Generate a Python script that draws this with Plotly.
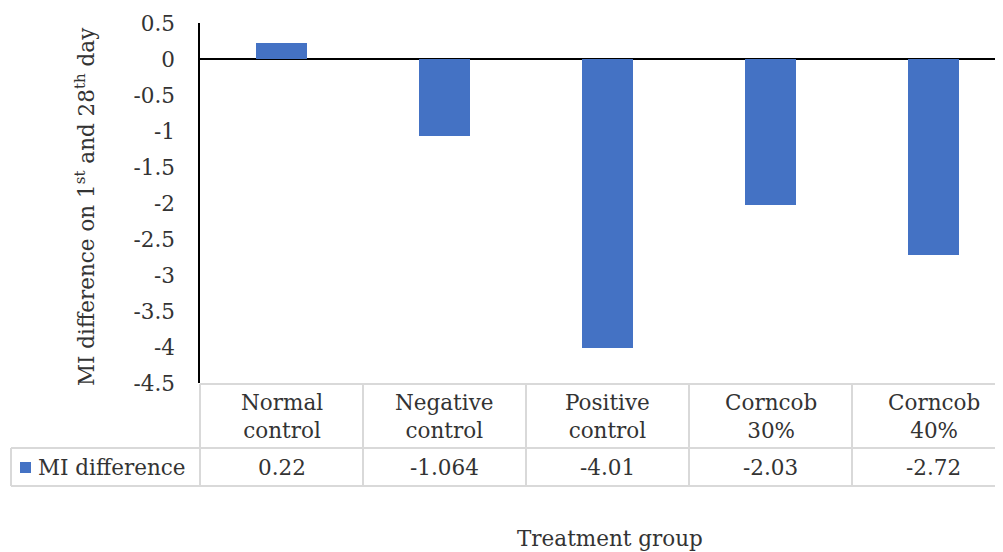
import plotly.graph_objects as go

categories = ["Normal control", "Negative control", "Positive control", "Corncob 30%", "Corncob 40%"]
header_labels = ["Normal<br>control", "Negative<br>control", "Positive<br>control", "Corncob<br>30%", "Corncob<br>40%"]
values = [0.22, -1.064, -4.01, -2.03, -2.72]
value_labels = ["0.22", "-1.064", "-4.01", "-2.03", "-2.72"]
series_name = "MI difference"
y_ticks = [0.5, 0, -0.5, -1, -1.5, -2, -2.5, -3, -3.5, -4, -4.5]

W, H = 1003, 552
OFF = 8  # page body margin
BAR = "#4472C4"
GRID = "#d9d9d9"
TXT = "#333333"
FONT = "DejaVu Serif"
FS = 21.5


def X(px):
    return (px - OFF) / W


def Y(py):
    return 1 - (py - OFF) / H


fig = go.Figure()
fig.add_trace(go.Bar(x=list(range(len(categories))), y=values, marker_color=BAR,
                     width=0.307, name=series_name, showlegend=False, hoverinfo="x+y"))

shapes = []
shapes.append(dict(type="line", xref="paper", yref="paper", x0=X(200), x1=1, y0=Y(384), y1=Y(384),
                   line=dict(color=GRID, width=2)))
for py in (448, 486):
    shapes.append(dict(type="line", xref="paper", yref="paper", x0=X(11), x1=1, y0=Y(py), y1=Y(py),
                       line=dict(color=GRID, width=2)))
shapes.append(dict(type="line", xref="paper", yref="paper", x0=X(11), x1=X(11), y0=Y(448), y1=Y(486),
                   line=dict(color=GRID, width=2)))
shapes.append(dict(type="line", xref="paper", yref="paper", x0=X(200), x1=X(200), y0=Y(384), y1=Y(486),
                   line=dict(color=GRID, width=2)))
for i in range(len(categories) - 1):
    shapes.append(dict(type="line", xref="x", yref="paper", x0=i + 0.5, x1=i + 0.5, y0=Y(384), y1=Y(486),
                       line=dict(color=GRID, width=2)))
shapes.append(dict(type="rect", xref="paper", yref="paper", x0=X(20), x1=X(31), y0=Y(473), y1=Y(462),
                   fillcolor=BAR, line=dict(width=0)))

annotations = []
for i, (h, v) in enumerate(zip(header_labels, value_labels)):
    annotations.append(dict(x=i, xref="x", y=Y(416), yref="paper", text=h, showarrow=False,
                            font=dict(family=FONT, size=FS, color=TXT), align="center",
                            xanchor="center", yanchor="middle"))
    annotations.append(dict(x=i, xref="x", y=Y(467), yref="paper", text=v, showarrow=False,
                            font=dict(family=FONT, size=FS, color=TXT),
                            xanchor="center", yanchor="middle"))
annotations.append(dict(x=X(36), xref="paper", y=Y(467), yref="paper", text=series_name, showarrow=False,
                        font=dict(family=FONT, size=FS, color=TXT), xanchor="left", yanchor="middle"))
annotations.append(dict(x=X(610), xref="paper", y=Y(538), yref="paper", text="Treatment group",
                        showarrow=False, font=dict(family=FONT, size=FS, color=TXT),
                        xanchor="center", yanchor="middle"))
annotations.append(dict(x=X(85), xref="paper", y=Y(207), yref="paper",
                        text="MI difference on 1<sup>st</sup> and 28<sup>th</sup> day",
                        showarrow=False, textangle=-90, font=dict(family=FONT, size=FS, color=TXT),
                        xanchor="center", yanchor="middle"))

fig.update_layout(
    width=W, height=H,
    margin=dict(l=0, r=0, t=0, b=0, autoexpand=False),
    template="none",
    paper_bgcolor="white", plot_bgcolor="white",
    showlegend=False,
    xaxis=dict(domain=[X(200), 1], range=[-0.5, -0.5 + (W + OFF - 200) / 163], showticklabels=False,
               showgrid=False, zeroline=False, showline=False, ticks="", automargin=False),
    yaxis=dict(domain=[Y(383), Y(23)], range=[-4.5, 0.5], tickvals=y_ticks,
               ticktext=[f"{t:g}" for t in y_ticks], showgrid=False,
               zeroline=True, zerolinecolor="black", zerolinewidth=1.5,
               showline=True, linecolor="black", linewidth=1.5, ticks="", automargin=False,
               ticklabelstandoff=19, tickfont=dict(family=FONT, size=FS, color=TXT)),
    shapes=shapes, annotations=annotations,
    bargap=0,
)

fig.write_html("out.html")
